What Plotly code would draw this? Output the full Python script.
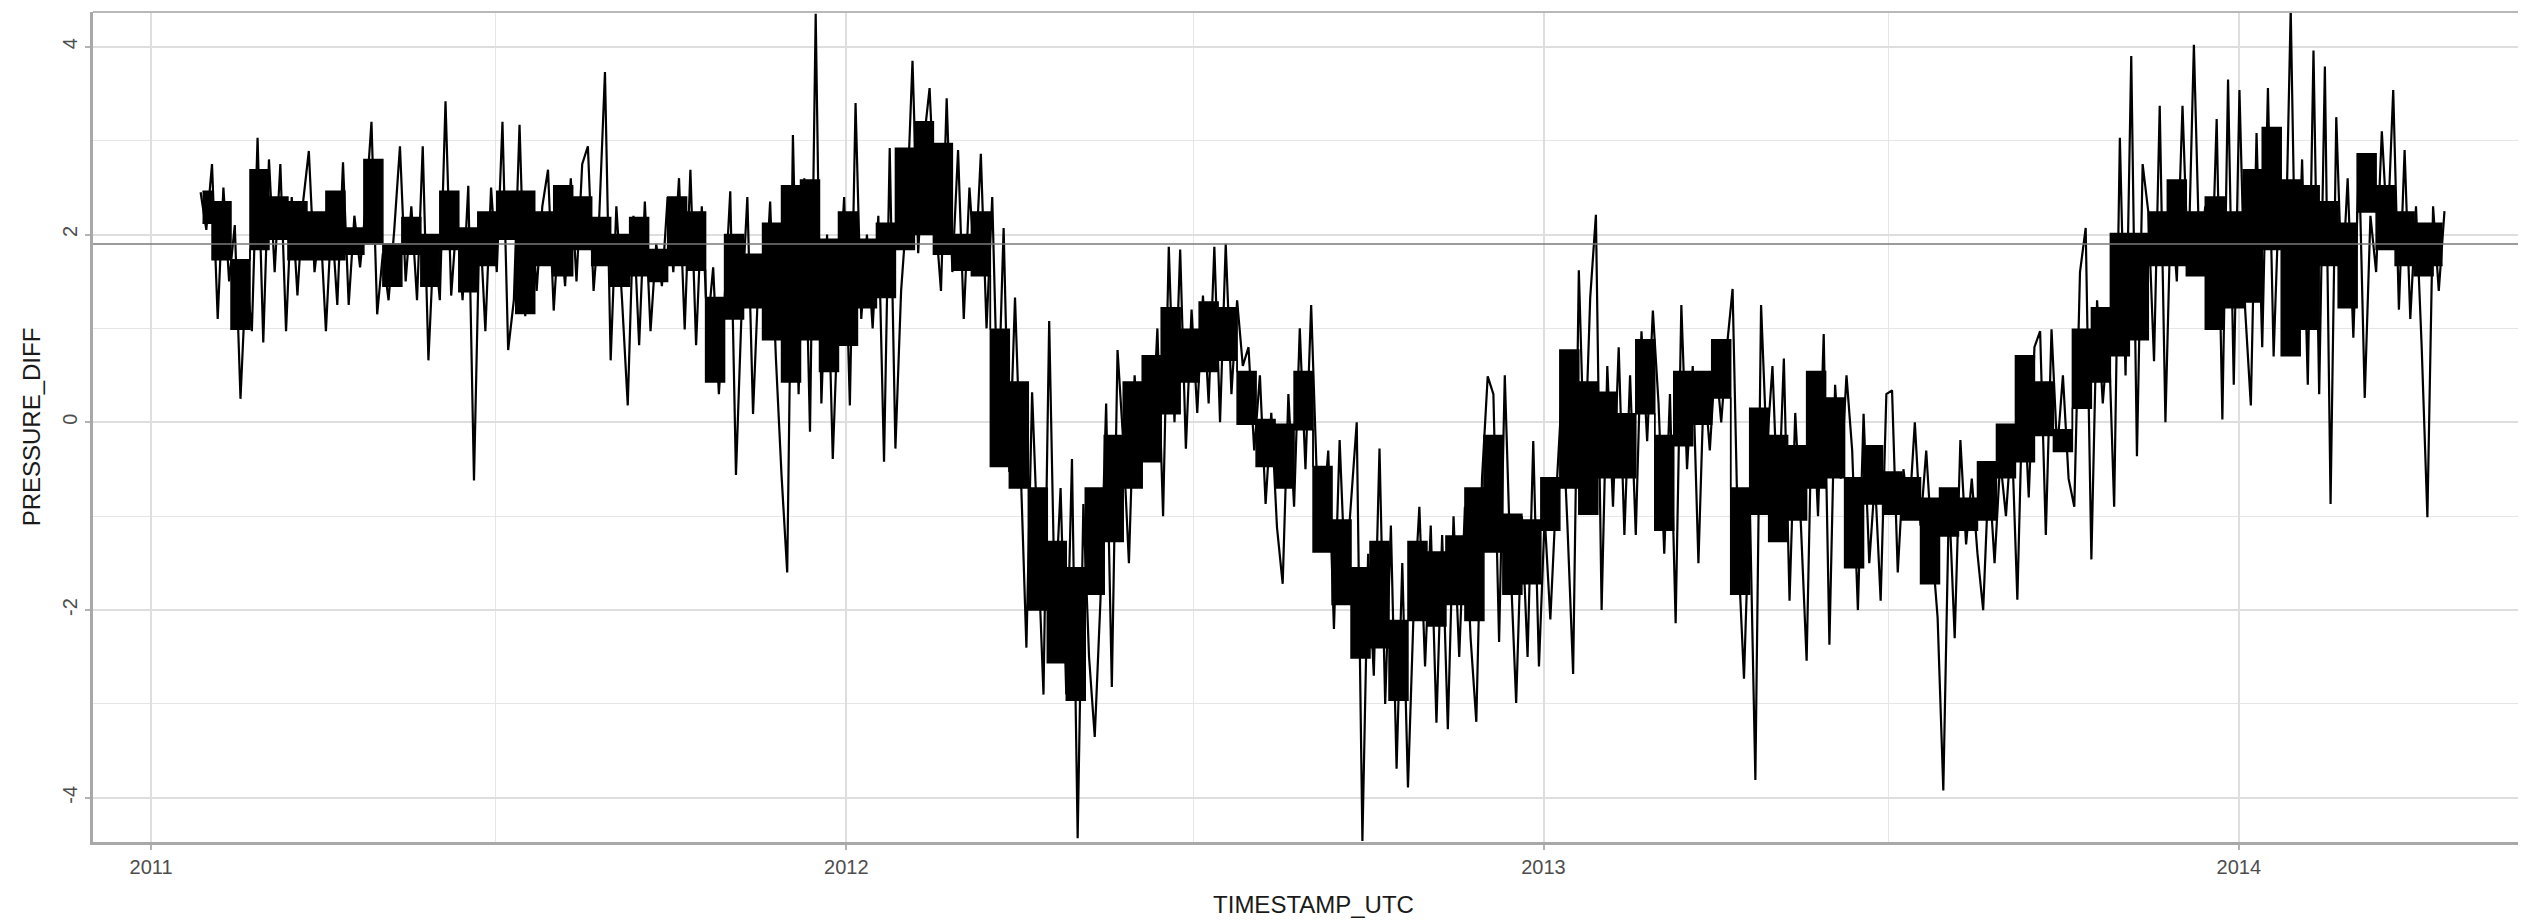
import pandas as pd
import plotly.graph_objects as go

# Sequence of readings (every ~3 days)
pressure_diff = [
    # 2011-01 .. 2011-07
    2.45, 2.05, 2.75, 1.1, 2.5, 1.5, 2.1, 0.25, 1.6, 0.97, 3.03, 0.85, 2.8, 1.6, 2.75, 0.97,
    2.4, 1.35, 2.35, 2.89, 1.6, 2.15, 0.97, 2.2, 1.25, 2.77, 1.25, 2.2, 1.65, 2.3, 3.2, 1.15,
    1.8, 1.3, 2.05, 2.94, 1.5, 2.3, 1.3, 2.94, 0.66, 2.0, 1.3, 3.42, 1.35, 2.2, 1.3, 2.52,
    -0.62, 2.2, 0.97, 2.5, 1.6, 3.2, 0.77,
    # 2011-07 .. 2012-01
    1.3, 3.17, 1.13, 2.4, 1.4, 2.3, 2.69, 1.19, 2.2, 1.45, 2.6, 1.5, 2.75, 2.94, 1.4, 2.2,
    3.73, 0.66, 2.3, 1.3, 0.18, 2.2, 0.82, 2.35, 0.97, 1.9, 1.45, 2.4, 1.6, 2.6, 0.99, 2.69,
    0.82, 2.3, 0.99, 1.65, 0.3, 1.3, 2.46, -0.56, 1.2, 2.4, 0.09, 1.6, 1.2, 2.35, 0.7, -0.56,
    -1.6, 3.06, 0.3, 2.6, -0.1, 4.35, 0.2, 2.0, -0.39, 1.3,
    # 2012-01 .. 2012-07
    2.4, 0.18, 3.4, 1.1, 2.0, 1.0, 2.2, -0.42, 2.92, -0.28, 1.4, 2.25, 3.85, 1.8, 3.0, 3.56,
    2.2, 1.4, 3.45, 1.6, 2.9, 1.1, 2.5, 1.6, 2.86, 1.0, 2.4, 0.03, 2.07, -0.53, 1.33, -0.5,
    -2.4, 0.32, -1.2, -2.9, 1.08, -2.0, -0.7, -2.9, -0.39, -4.43, -0.87, -2.5, -3.35, -1.9,
    0.2, -2.82, 0.77, -0.2, -1.5, 0.5, -0.5, 0.7, -0.3, 1.0, -1.0,
    # 2012-07 .. 2013-01
    1.87, 0.0, 1.84, -0.28, 1.2, 0.1, 1.35, 0.2, 1.87, 0.0, 1.9, 0.3, 1.3, 0.6, 0.8, -0.3,
    0.5, -0.87, 0.1, -1.12, -1.72, 0.3, -0.9, 1.0, -0.5, 1.25, -0.6, -1.1, -0.3, -2.2, -0.19,
    -1.7, -0.9, 0.0, -4.46, -1.4, -2.7, -0.28, -3.0, -1.1, -3.69, -1.5, -3.89, -2.0, -0.9,
    -2.6, -1.1, -3.2, -1.2, -3.27, -1.0, -2.5, -0.9, -2.3, -3.19, -0.6, 0.49,
    # 2013-01 .. 2013-07
    0.3, -2.34, 0.5, -1.5, -2.99, -1.0, -2.5, -0.2, -2.6, -1.0, -2.1, -0.8, 0.29, -1.1, -2.68,
    1.62, -0.5, 1.33, 2.21, -2.0, 0.6, -0.9, 0.8, -1.2, 0.5, -1.2, 0.97, -0.2, 1.19, 0.2,
    -1.4, 0.3, -2.14, 1.25, -0.5, 0.6, -1.5, 0.5, -0.3, 0.7, 0.0, 0.8, 1.42, -1.4, -2.73,
    -0.8, -3.81, 1.25, -0.3, 0.6, -1.0, 0.68, -1.9, 0.1, -1.1, -2.54, 0.4, -1.0,
    # 2013-07 .. 2014-01
    0.94, -2.37, 0.4, -0.6, 0.5, -0.3, -2.0, 0.09, -1.5, -0.6, -1.9, 0.3, 0.34, -1.6, -0.5,
    -1.0, 0.0, -1.1, -0.3, -1.3, -2.08, -3.92, -0.8, -2.3, -0.19, -1.3, -0.6, -1.4, -2.0,
    -0.5, -1.5, -0.4, -1.0, -0.1, -1.89, 0.5, -0.8, 0.8, 0.97, -1.2, 0.99, -0.3, 0.5, -0.6,
    -0.9, 1.6, 2.07, -1.46, 1.3, 0.2, 1.0, -0.9, 3.03, 0.5, 3.9, -0.36, 2.75,
    # 2014-01 .. 2014-04
    2.24, 0.65, 3.37, 0.0, 2.4, 1.5, 3.37, 1.6, 4.02, 1.7, 2.3, 1.25, 3.23, 0.03, 3.65, 0.4,
    3.54, 1.2, 0.18, 3.08, 0.8, 3.56, 0.7, 2.5, 1.5, 4.4, 0.9, 2.8, 0.4, 3.96, 0.3, 3.79,
    -0.87, 3.25, 1.4, 2.6, 0.9, 2.8, 0.26, 2.2, 1.6, 3.1, 2.0, 3.54, 1.2, 2.9, 1.1, 2.3,
    0.8, -1.01, 2.3, 1.4, 2.25,
]
first_timestamp = "2011-01-27"
last_timestamp = "2014-04-19"

# Dense core of the trace (where the black band is solid), read every ~10 days
core_upper = [
    2.46, 2.35, 1.73, 2.69, 2.4, 2.35, 2.24, 2.46, 2.07, 2.8, 1.9, 2.18, 2.0, 2.46, 2.07, 2.24, 2.46,
    2.46, 2.24, 2.52, 2.4, 2.18, 2.0, 2.18, 1.84, 2.4, 2.24, 1.33, 2.0, 1.79, 2.12, 2.52, 2.58, 1.95,
    2.24, 1.95, 2.12, 2.92, 3.2, 2.97, 2.0, 2.24, 0.99, 0.43, -0.7, -1.27, -1.55, -0.7, -0.14, 0.43, 0.71,
    1.22, 0.99, 1.28, 1.22, 0.54, 0.03, -0.02, 0.54, -0.47, -1.04, -1.55, -1.27, -2.11, -1.27, -1.38, -1.21, -0.7,
    -0.14, -0.98, -1.04, -0.59, 0.77, 0.43, 0.32, 0.09, 0.88, -0.14, 0.54, 0.54, 0.88, -0.7, 0.15, -0.14, -0.25,
    0.54, 0.26, -0.59, -0.25, -0.53, -0.59, -0.81, -0.7, -0.81, -0.42, -0.02, 0.71, 0.43, -0.08, 0.99, 1.22, 2.01,
    2.01, 2.24, 2.58, 2.24, 2.4, 2.24, 2.69, 3.14, 2.58, 2.52, 2.35, 2.12, 2.86, 2.52, 2.24, 2.12, 2.12,
]
core_lower = [
    2.12, 1.73, 0.99, 1.84, 1.95, 1.73, 1.73, 1.73, 1.79, 1.9, 1.45, 1.79, 1.45, 1.84, 1.39, 1.67, 1.95,
    1.16, 1.67, 1.56, 1.84, 1.67, 1.45, 1.56, 1.5, 1.67, 1.62, 0.43, 1.1, 1.22, 0.88, 0.43, 0.88, 0.54,
    0.82, 1.22, 1.33, 1.84, 2.0, 1.79, 1.62, 1.56, -0.47, -0.7, -2.0, -2.56, -2.96, -1.83, -1.27, -0.7, -0.42,
    0.09, 0.43, 0.54, 0.66, -0.02, -0.47, -0.7, -0.08, -1.38, -1.94, -2.51, -2.4, -2.96, -2.11, -2.17, -1.94, -2.11,
    -1.38, -1.83, -1.72, -1.15, -0.7, -0.98, -0.59, -0.59, 0.09, -1.15, -0.25, -0.02, 0.26, -1.83, -0.98, -1.27, -1.04,
    -0.7, -0.59, -1.55, -0.87, -0.98, -1.04, -1.72, -1.21, -1.15, -1.04, -0.59, -0.42, -0.14, -0.31, 0.15, 0.43, 0.71,
    0.88, 1.67, 1.67, 1.56, 0.99, 1.22, 1.28, 1.84, 0.71, 0.99, 1.67, 1.22, 2.24, 1.84, 1.67, 1.56, 1.67,
]
core_first = "2011-01-28"
core_last = "2014-04-18"

reference_level = 1.9

timestamps = pd.date_range(first_timestamp, last_timestamp, periods=len(pressure_diff))
core_times = pd.date_range(core_first, core_last, periods=len(core_upper))

x_range = ["2010-12-01 12:00", "2014-06-05"]
y_range = [-4.47, 4.37]
x_tick_labels = ["2011", "2012", "2013", "2014"]
x_tick_vals = [f"{y}-01-01" for y in x_tick_labels]
y_tick_vals = [-4, -2, 0, 2, 4]

FONT = "Liberation Sans, Arial, sans-serif"

fig = go.Figure()
# solid core band (lower edge, then upper edge filled down to it), drawn as steps
fig.add_trace(go.Scatter(
    x=core_times, y=core_lower, mode="lines",
    line=dict(color="black", width=1.5, shape="hvh"), showlegend=False, hoverinfo="skip",
))
fig.add_trace(go.Scatter(
    x=core_times, y=core_upper, mode="lines", fill="tonexty", fillcolor="black",
    line=dict(color="black", width=1.5, shape="hvh"), showlegend=False, hoverinfo="skip",
))
# full trace with spikes
fig.add_trace(go.Scatter(
    x=timestamps, y=pressure_diff, mode="lines",
    line=dict(color="black", width=2.2), showlegend=False,
))
fig.add_hline(y=reference_level, line=dict(color="#7a7a7a", width=1.5))

# top panel border
fig.add_shape(type="line", xref="paper", yref="paper", x0=0, x1=1, y0=1, y1=1,
              line=dict(color="#b8b8b8", width=2))

fig.update_layout(
    width=2526, height=922,
    margin=dict(l=85, r=0, t=4, b=88),
    paper_bgcolor="white", plot_bgcolor="white",
    font=dict(family=FONT),
)
fig.update_xaxes(
    range=x_range, type="date",
    tickvals=x_tick_vals, ticktext=x_tick_labels,
    tickfont=dict(size=20, color="#4d4d4d", family=FONT),
    ticks="outside", ticklen=5, tickwidth=1.5, tickcolor="#b3b3b3",
    showgrid=True, gridcolor="#dedede", gridwidth=1.6,
    minor=dict(dtick="M6", tick0="2011-01-01", showgrid=True, gridcolor="#e6e6e6", gridwidth=1.2),
    showline=True, linecolor="#a8a8a8", linewidth=2.5,
    zeroline=False,
    title=dict(text="TIMESTAMP_UTC", font=dict(size=24, color="#1a1a1a", family=FONT), standoff=20),
)
fig.update_yaxes(
    range=y_range,
    tickvals=y_tick_vals, ticktext=[str(v) for v in y_tick_vals],
    tickangle=-90,
    tickfont=dict(size=20, color="#4d4d4d", family=FONT),
    ticks="outside", ticklen=5, tickwidth=1.5, tickcolor="#b3b3b3",
    showgrid=True, gridcolor="#dedede", gridwidth=1.6,
    minor=dict(dtick=1, tick0=0, showgrid=True, gridcolor="#e6e6e6", gridwidth=1.2),
    showline=True, linecolor="#a8a8a8", linewidth=2.5,
    zeroline=False,
    title=dict(text="PRESSURE_DIFF", font=dict(size=24, color="#1a1a1a", family=FONT), standoff=12),
)

fig.write_html("out.html")
